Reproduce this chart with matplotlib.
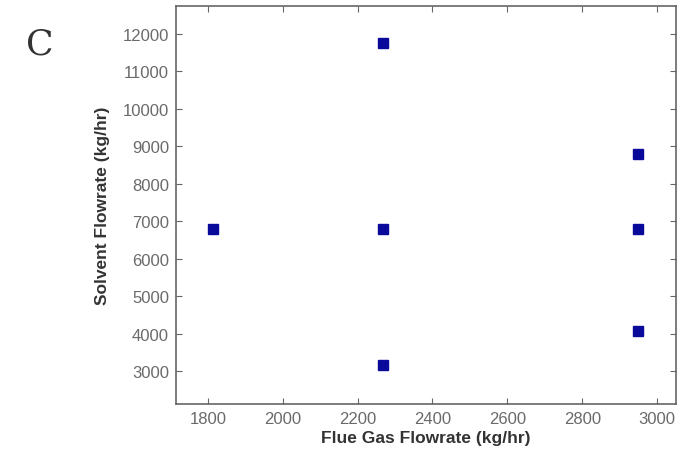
import matplotlib.pyplot as plt

# Data
flue_gas = [1814, 2268, 2268, 2268, 2948, 2948, 2948]
solvent = [6800, 11760, 6800, 3150, 8800, 6800, 4080]

x_ticks = [1800, 2000, 2200, 2400, 2600, 2800, 3000]
y_ticks = [3000, 4000, 5000, 6000, 7000, 8000, 9000, 10000, 11000, 12000]

plt.rcParams['font.family'] = ['Liberation Sans', 'DejaVu Sans']

fig = plt.figure(figsize=(6.82, 4.56), dpi=100)
ax = fig.add_axes([0.258, 0.112, 0.733, 0.873])

ax.plot(flue_gas, solvent, linestyle="none", marker="s", markersize=7,
        color="#0a0a9a", markeredgecolor="#0a0a9a")

ax.set_xlim(1715, 3050)
ax.set_ylim(2120, 12750)
ax.set_xticks(x_ticks)
ax.set_yticks(y_ticks)

ax.tick_params(direction="in", top=True, right=True, length=4, pad=5,
               labelsize=12, labelcolor="#6a6a6a", color="#666666")
for side in ax.spines.values():
    side.set_color("#666666")
    side.set_linewidth(1.2)

ax.set_xlabel("Flue Gas Flowrate (kg/hr)", fontsize=12.5, fontweight="bold",
              color="#333333", labelpad=3)
ax.set_ylabel("Solvent Flowrate (kg/hr)", fontsize=12.5, fontweight="bold",
              color="#333333", labelpad=9)

fig.text(0.059, 0.903, "C", fontsize=26, family="DejaVu Serif",
         color="#333333", ha="center", va="center")

fig.savefig("out.png", dpi=100)
